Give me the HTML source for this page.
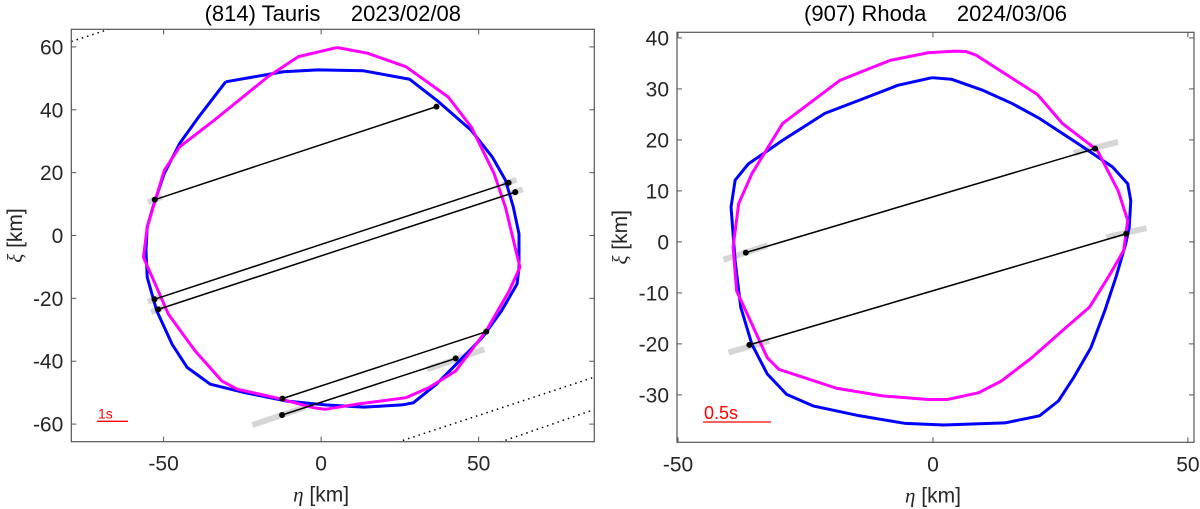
<!DOCTYPE html>
<html><head><meta charset="utf-8"><style>
html,body{margin:0;padding:0;background:#fff;}
svg{display:block;font-family:"Liberation Sans",Arial,sans-serif;}
</style></head><body>
<svg id="fig" width="1200" height="509" viewBox="0 0 1200 509"></svg>
<script>
// ---- Panel A data: (814) Tauris ----
const tBlue = [[-30.3,48.9],[-12,52.1],[-1,52.7],[13.5,52.4],[28.1,49.7],[36.6,43.1],[47.6,33.5],[54.3,25],[58.5,17.6],[61,9],[62.8,0.5],[62.8,-10.1],[62.2,-15.4],[57.3,-23.9],[51.2,-32.4],[43.9,-39.9],[36.6,-47.3],[29.3,-53.2],[25.7,-53.9],[13.5,-54.6],[1.3,-53.9],[-10.8,-52.7],[-24.2,-50],[-35.2,-47.3],[-42.5,-42],[-47.3,-34.6],[-52.2,-23.9],[-55.2,-13.3],[-55.6,-4.8],[-55.2,2.7],[-53.4,9],[-49.8,19.7],[-44.9,29.3],[-38.8,37.8],[-30.3,48.9]];
const tMag = [[5,59.8],[14.7,58],[26.9,53.7],[40.3,44.1],[47.6,34.6],[54.9,19.7],[58.5,9],[63.1,-10.1],[59.7,-17.6],[52.4,-30.3],[42.7,-43.1],[34.2,-48.4],[26.9,-51.6],[11.1,-53.7],[1.3,-55.3],[-2.3,-54.8],[-14.5,-51.6],[-26.6,-48.9],[-31.5,-46.3],[-40,-36.7],[-48.5,-25],[-56.4,-6.9],[-55.2,2.7],[-49.8,20.7],[-44.9,28.2],[-33.9,36.7],[-16.9,50.5],[-7.2,56.9],[5,59.8]];
const tChords = [[-52.8,11.4,36.6,41],[-52.9,-20.3,59.5,16.8],[-51.7,-23.5,61.6,13.8],[-12.3,-51.9,52.4,-30.6],[-12.4,-57.1,42.7,-39.1]];
const tErr = [[-21.8,-60.3,-5,-54.6],[33.6,-42.6,51.8,-36.2],[-55,10.6,-50.5,12.3],[57.5,16,62,17.8],[-55,-21.1,-50.8,-19.5],[59.5,13,64,14.7],[-54,-24.4,-49.5,-22.7]];
const tDotted = [[-79.3,61.7,-67.4,65.6],[22.6,-66.3,86.9,-45],[55.2,-66.3,86.9,-55.3]];
const tXTicks = [-50,0,50];
const tYTicks = [-60,-40,-20,0,20,40,60];
// ---- Panel B data: (907) Rhoda ----
const rBlue = [[-0.2,32.2],[3.6,31.9],[9.6,29.8],[15.6,27.1],[20.9,24.2],[28.4,19.3],[35.2,14.7],[38.2,11.4],[38.8,8.1],[38.5,2.9],[37.8,-0.4],[35.9,-6.9],[33.7,-13.5],[31,-20.7],[27.6,-26.6],[24.6,-31.2],[20.9,-34.1],[14.1,-35.5],[2.1,-35.9],[-5.4,-35.6],[-14.4,-34.1],[-23.4,-32.2],[-28.7,-29.9],[-32.5,-25.9],[-35.5,-20.1],[-37.7,-12.8],[-38.8,-3.7],[-39.6,6.8],[-38.8,12.1],[-36.2,15.3],[-29.5,19.9],[-21.2,25.2],[-14.4,27.8],[-6.9,30.7],[-0.2,32.2]];
const rMag = [[4.4,37.4],[6.6,37.3],[8.5,36.6],[14.1,33],[20.5,28.9],[25.4,23.2],[32.2,18],[36.3,10.1],[38.2,4.2],[37.4,-1.7],[34.4,-6.9],[30.7,-12.8],[25.4,-17.4],[19.4,-22.7],[13.4,-27.3],[8.9,-29.6],[2.9,-30.9],[-0.9,-30.9],[-9.9,-30.2],[-18.9,-28.7],[-30.2,-25],[-32.5,-22.7],[-38.5,-9.6],[-39.2,-1],[-38.1,7.5],[-35.5,13.4],[-29.5,23.2],[-18.2,31.7],[-8.4,35.6],[-0.9,37.1],[4.4,37.4]];
const rChords = [[-36.7,-2.1,31.8,18.3],[-36,-20.2,37.9,1.6]];
const rErr = [[-41.1,-3.5,-32.5,-0.7],[27.6,17.4,36.3,19.6],[-40.1,-21.7,-32.1,-19.4],[34,0.9,41.9,2.7]];
const rXTicks = [-50,0,50];
const rYTicks = [-30,-20,-10,0,10,20,30,40];

const NS="http://www.w3.org/2000/svg";
const svg=document.getElementById('fig');
function mk(tag,attrs,parent){const e=document.createElementNS(NS,tag);for(const k in attrs)e.setAttribute(k,attrs[k]);(parent||svg).appendChild(e);return e;}

function panel(cfg){
  const g=mk('g',{});
  
  
  const sx=v=>cfg.L+(v-cfg.xmin)/(cfg.xmax-cfg.xmin)*(cfg.R-cfg.L);
  const sy=v=>cfg.B-(v-cfg.ymin)/(cfg.ymax-cfg.ymin)*(cfg.B-cfg.T);
  const clip='clip-'+cfg.name;
  const cp=mk('clipPath',{id:clip},g);mk('rect',{x:cfg.L,y:cfg.T,width:cfg.R-cfg.L,height:cfg.B-cfg.T},cp);
  const plot=mk('g',{'clip-path':'url(#'+clip+')'},g);
  (cfg.dotted||[]).forEach(d=>{const l=mk('line',{x1:sx(d[0]),y1:sy(d[1]),x2:sx(d[2]),y2:sy(d[3]),stroke:'#000','stroke-width':1.5,'stroke-dasharray':'1.5 4'},plot);
    
    });
  cfg.err.forEach(d=>{const l=mk('line',{x1:sx(d[0]),y1:sy(d[1]),x2:sx(d[2]),y2:sy(d[3]),stroke:'#d6d6d6','stroke-width':6},plot);
    
    });
  const path=(pts,col,nm)=>{const p=mk('polyline',{points:pts.map(q=>sx(q[0])+','+sy(q[1])).join(' '),fill:'none',stroke:col,'stroke-width':3,'stroke-linejoin':'round'},plot);
    
    };
  path(cfg.blue,'#0000ff','shape-model-blue');
  path(cfg.mag,'#ff00ff','shape-model-magenta');
  cfg.chords.forEach(c=>{const l=mk('line',{x1:sx(c[0]),y1:sy(c[1]),x2:sx(c[2]),y2:sy(c[3]),stroke:'#000','stroke-width':1.5},plot);
    
    
    [[c[0],c[1]],[c[2],c[3]]].forEach(p=>{const d=mk('circle',{cx:sx(p[0]),cy:sy(p[1]),r:3,fill:'#000'},plot);
      
      });});
  const box=mk('rect',{x:cfg.L,y:cfg.T,width:cfg.R-cfg.L,height:cfg.B-cfg.T,fill:'none',stroke:'#555','stroke-width':1.2},g);
  
  
  cfg.xt.forEach(t=>{const x=sx(t);
    mk('line',{x1:x,y1:cfg.B,x2:x,y2:cfg.B-5,stroke:'#555'},g);mk('line',{x1:x,y1:cfg.T,x2:x,y2:cfg.T+5,stroke:'#555'},g);
    const tx=mk('text',{x:x,y:cfg.B+29,'text-anchor':'middle','font-size':21,fill:'#262626'},g);tx.textContent=t;
    
    });
  cfg.yt.forEach(t=>{const y=sy(t);
    mk('line',{x1:cfg.L,y1:y,x2:cfg.L+5,y2:y,stroke:'#555'},g);mk('line',{x1:cfg.R,y1:y,x2:cfg.R-5,y2:y,stroke:'#555'},g);
    const tx=mk('text',{x:cfg.L-8,y:y+7.5,'text-anchor':'end','font-size':21,fill:'#262626'},g);tx.textContent=t;
    
    });
  const cx=(cfg.L+cfg.R)/2;
  const ti=mk('text',{x:cx,y:21,'text-anchor':'middle','font-size':22,fill:'#000',style:'white-space:pre'},g);ti.textContent=cfg.title;
  
  
  const xl=mk('text',{x:sx(0),y:cfg.B+60,'text-anchor':'middle','font-size':21,fill:'#262626'},g);
  xl.innerHTML='<tspan font-family="Liberation Serif" font-style="italic">η</tspan> [km]';
  
  
  const ycy=(cfg.T+cfg.B)/2;
  const yl=mk('text',{x:cfg.ylx,y:ycy,'text-anchor':'middle','font-size':21,fill:'#262626',transform:'rotate(-90 '+cfg.ylx+' '+ycy+')'},g);
  yl.innerHTML='<tspan font-family="Liberation Serif" font-style="italic">ξ</tspan> [km]';
  
  
  const sb=cfg.sb;
  const sl=mk('line',{x1:sb.x1,y1:sb.y,x2:sb.x2,y2:sb.y,stroke:'#ff0000','stroke-width':1.3},g);
  
  
  const st=mk('text',{x:sb.x1+1,y:sb.y-3,'font-size':sb.fs,fill:'#ff0000'},g);st.textContent=sb.label;
  
  
}
panel({name:'panel-tauris',L:71.3,R:594.3,T:29.3,B:441.7,xmin:-79.3,xmax:86.7,ymin:-65.6,ymax:65.6,
  blue:tBlue,mag:tMag,chords:tChords,err:tErr,dotted:tDotted,xt:tXTicks,yt:tYTicks,
  title:'(814) Tauris     2023/02/08',ylx:22,sb:{x1:97,x2:128,y:421.3,label:'1s',fs:14}});
panel({name:'panel-rhoda',L:677,R:1194,T:32.3,B:442.3,xmin:-50.2,xmax:51.2,ymin:-39.3,ymax:41.1,
  blue:rBlue,mag:rMag,chords:rChords,err:rErr,dotted:[],xt:rXTicks,yt:rYTicks,
  title:'(907) Rhoda     2024/03/06',ylx:627,sb:{x1:703,x2:771,y:422,label:'0.5s',fs:18}});
</script>
</body></html>
